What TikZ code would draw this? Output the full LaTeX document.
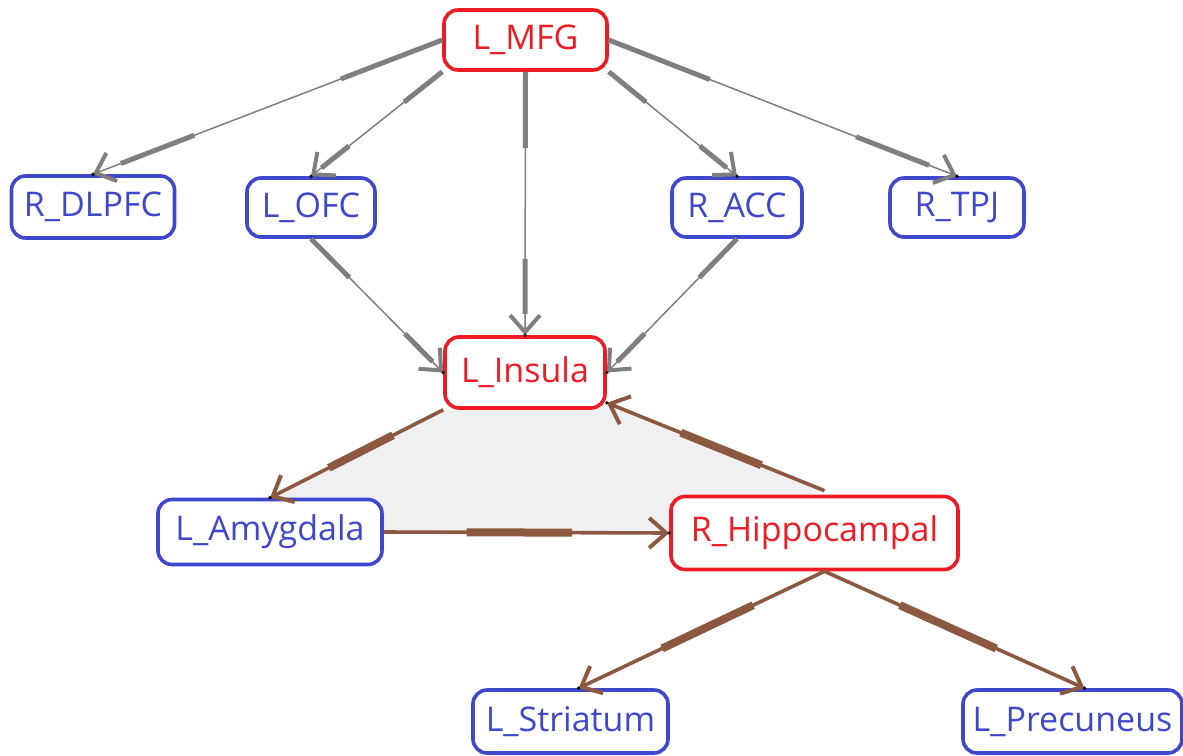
\documentclass[tikz,border=0pt]{standalone}
\usepackage{fontspec}
\setmainfont{Open Sans}
\usetikzlibrary{arrows.meta,calc}

\definecolor{hubred}{RGB}{237,28,36}
\definecolor{leafblue}{RGB}{63,72,204}
\definecolor{linkgrey}{RGB}{127,127,127}
\definecolor{linkbrown}{RGB}{140,88,64}
\definecolor{loopfill}{RGB}{240,240,240}

\pgfdeclarelayer{background}
\pgfsetlayers{background,main}

\tikzset{
  region/.style={draw, fill=white, rounded corners=14pt, line width=3.6pt,
    font=\fontsize{34}{40}\selectfont, inner sep=0pt},
  hub/.style={region, draw=hubred, text=hubred},
  leaf/.style={region, draw=leafblue, text=leafblue},
  tipbarb/.style={-{Straight Barb[length=17pt,width=30pt,line width=4pt]}},
  greythin/.style={draw=linkgrey, line width=1.5pt, tipbarb},
  greythick/.style={draw=linkgrey, line width=5pt},
  brownthin/.style={draw=linkbrown, line width=3.6pt, tipbarb},
  brownthick/.style={draw=linkbrown, line width=8pt},
}

% #1 thin style, #2 thick style, #3 source, #4 target, #5-#6 heavy stretch
\newcommand\linkpart[6]{%
  \draw[#1] (#3) -- (#4);
  \draw[#2] ($(#3)!#5!(#4)$) -- ($(#3)!#6!(#4)$);
  \fill[black] (#4) circle (1.8pt);
}
% grey links: heavy near both ends, light in between
\newcommand\greylink[2]{%
  \linkpart{greythin}{greythick}{#1}{#2}{0}{0.29}
  \draw[greythick] ($(#1)!0.71!(#2)$) -- ($(#1)!0.92!(#2)$);
}
% brown links: heavy in the middle
\newcommand\brownlink[2]{\linkpart{brownthin}{brownthick}{#1}{#2}{0.29}{0.66}}

\begin{document}
\begin{tikzpicture}[x=1pt,y=-1pt]
\useasboundingbox (0,0) rectangle (1183,755);

% nodes
\node[hub,  minimum width=163pt, minimum height=60pt] (mfg)   at (525.5,40)  {L\_MFG};
\node[leaf, minimum width=163pt, minimum height=62pt] (dlpfc) at (93,207)    {R\_DLPFC};
\node[leaf, minimum width=128pt, minimum height=59pt] (ofc)   at (311,207.5) {L\_OFC};
\node[leaf, minimum width=130pt, minimum height=59pt] (acc)   at (737,207.5) {R\_ACC};
\node[leaf, minimum width=134pt, minimum height=59pt] (tpj)   at (957,207.5) {R\_TPJ};
\node[hub,  minimum width=160pt, minimum height=71pt] (ins)   at (525,372.5) {L\_Insula};
\node[leaf, minimum width=224pt, minimum height=65pt] (amy)   at (270,532)   {L\_Amygdala};
\node[hub,  minimum width=287pt, minimum height=73pt] (hip)   at (814.5,533) {R\_Hippocampal};
\node[leaf, minimum width=195pt, minimum height=63pt] (str)   at (570.5,721.5) {L\_Striatum};
\node[leaf, minimum width=219pt, minimum height=63pt] (prec)  at (1072.5,721.5) {L\_Precuneus};

% link end points
\coordinate (hipTop)  at ($(hip.north)+(10,-4)$);
\coordinate (insBR)   at ($(ins.south east)+(0,-7)$);
\coordinate (strTop)  at ($(str.north)+(8,0)$);
\coordinate (precTop) at ($(prec.north)+(12,0)$);
\coordinate (hipLow)  at ($(hip.south)+(10,0)$);

% shaded loop between insula, amygdala and hippocampal nodes
\begin{pgfonlayer}{background}
\fill[loopfill] (ins.south west) -- (amy.north) -- (amy.east) -- (hip.west)
  -- (hipTop) -- (insBR) -- cycle;
\end{pgfonlayer}

% grey links
\greylink{mfg.west}{dlpfc.north}
\greylink{mfg.south west}{ofc.north}
\greylink{mfg.south}{ins.north}
\greylink{mfg.south east}{acc.north}
\greylink{mfg.east}{tpj.north}
\greylink{ofc.south}{ins.west}
\greylink{acc.south}{ins.east}

% brown links
\brownlink{ins.south west}{amy.north}
\brownlink{amy.east}{hip.west}
\brownlink{hipTop}{insBR}
\brownlink{hipLow}{strTop}
\brownlink{hipLow}{precTop}
\end{tikzpicture}
\end{document}
